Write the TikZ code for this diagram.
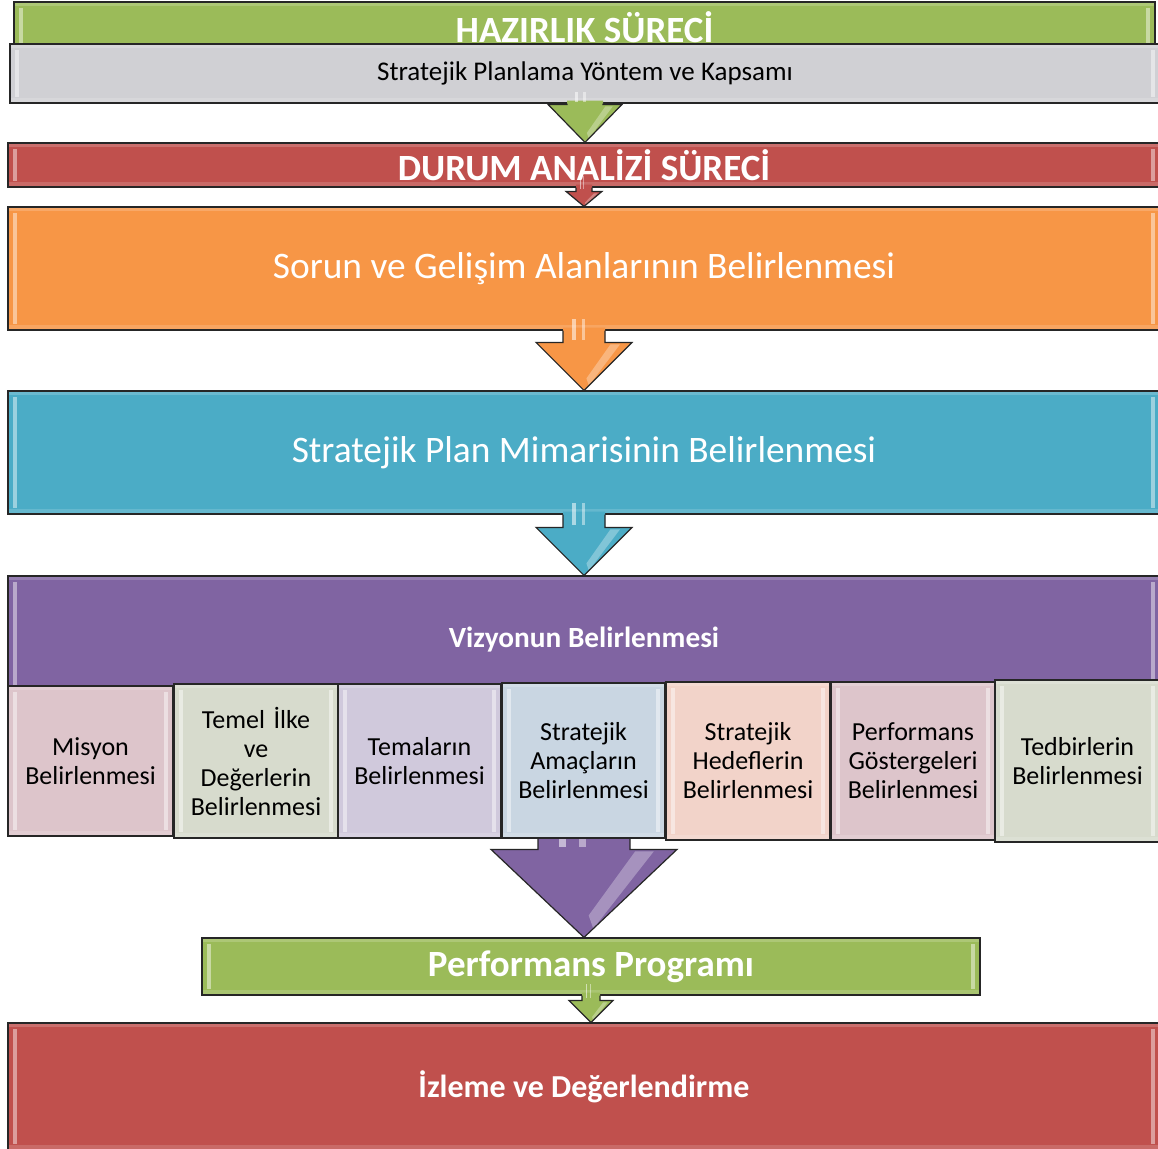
\documentclass[tikz,border=0pt]{standalone}
\usepackage{fontspec}
\setmainfont{Carlito}
\usetikzlibrary{calc}
\definecolor{cgreen}{HTML}{9BBB59}
\definecolor{cgray}{HTML}{D0D0D4}
\definecolor{cred}{HTML}{C0504D}
\definecolor{corange}{HTML}{F79646}
\definecolor{cblue}{HTML}{4BACC6}
\definecolor{cpurple}{HTML}{8064A2}
\definecolor{spink}{HTML}{DDC5CB}
\definecolor{sgreen}{HTML}{D7DBCD}
\definecolor{slav}{HTML}{D0C9DC}
\definecolor{sblue}{HTML}{C9D6E2}
\definecolor{speach}{HTML}{F2D3C9}
\tikzset{
  bevel/.style={path picture={
    \fill[white,opacity=.45] ([xshift=5pt,yshift=-6pt]path picture bounding box.north west) rectangle ([xshift=9pt,yshift=6pt]path picture bounding box.south west);
    \fill[white,opacity=.45] ([xshift=-9pt,yshift=-6pt]path picture bounding box.north east) rectangle ([xshift=-5pt,yshift=6pt]path picture bounding box.south east);
    \fill[white,opacity=.18] (path picture bounding box.north west) rectangle ([yshift=-4pt]path picture bounding box.north east);
    \fill[white,opacity=.15] (path picture bounding box.south west) rectangle ([yshift=5pt]path picture bounding box.south east);
  }},
  bar/.style={draw=black!85, line width=1.2pt, inner sep=0pt, bevel, text=white},
  small/.style={draw=black!85, line width=1.2pt, inner sep=0pt, bevel, text=black,
    text width=158pt, align=center, font=\fontsize{26}{29}\selectfont},
  bigfont/.style={font=\fontsize{37}{40}\selectfont\bfseries},
  regfont/.style={font=\fontsize{37.4}{42}\selectfont},
}
\newcommand\fatarrow[6]{%
  \fill[#6] let \p1=(#1.south), \p2=(#2.north) in
    (\x1-#3,\y1+3pt) -- (\x1-#3,\y2+#5) -- (\x1-#4,\y2+#5) -- (\x1,\y2) --
    (\x1+#4,\y2+#5) -- (\x1+#3,\y2+#5) -- (\x1+#3,\y1+3pt) -- cycle;
  \fill[white,opacity=.55] let \p1=(#1.south), \p2=(#2.north) in
    (\x1-0.55*#3,\y1+12pt) rectangle (\x1-0.4*#3,\y2+#5+2pt);
  \fill[white,opacity=.45] let \p1=(#1.south), \p2=(#2.north) in
    (\x1-0.1*#3,\y1+12pt) rectangle (\x1+0.05*#3,\y2+#5+2pt);
  \fill[white,opacity=.3] let \p1=(#1.south), \p2=(#2.north) in
    (\x1+0.55*#4,\y2+#5-2pt) -- (\x1+0.75*#4,\y2+#5-2pt) -- (\x1+0.1*#4,\y2+0.1*#5) -- (\x1+0.05*#4,\y2+0.25*#5) -- cycle;
  \draw[line width=1.2pt, black!85, line join=miter] let \p1=(#1.south), \p2=(#2.north) in
    (\x1-#3,\y1) -- (\x1-#3,\y2+#5) -- (\x1-#4,\y2+#5) -- (\x1,\y2) --
    (\x1+#4,\y2+#5) -- (\x1+#3,\y2+#5) -- (\x1+#3,\y1);
}
\begin{document}
\begin{tikzpicture}[x=1pt,y=-1pt]
\useasboundingbox (0,0) rectangle (1158,1148);
\fill[white] (0,0) rectangle (1158,1148);

% wide bars
\node[bar, fill=cgreen, minimum width=1141pt, minimum height=50pt, bigfont] (prep) at (584.5,27) {HAZIRLIK SÜRECİ};
\node[bar, fill=cgray, minimum width=1150pt, minimum height=59pt, text=black, font=\fontsize{27}{30}\selectfont] (method) at (585,73.5) {Stratejik Planlama Yöntem ve Kapsamı};
\node[bar, fill=cred, minimum width=1152pt, minimum height=44pt, bigfont] (durum) at (584,165) {DURUM ANALİZİ SÜRECİ};
\node[bar, fill=corange, minimum width=1152pt, minimum height=123pt, regfont] (sorun) at (584,268.5) {Sorun ve Gelişim Alanlarının Belirlenmesi};
\node[bar, fill=cblue, minimum width=1152pt, minimum height=123pt, regfont] (mimari) at (584,452.5) {Stratejik Plan Mimarisinin Belirlenmesi};
\node[bar, fill=cpurple, minimum width=1152pt, minimum height=128pt, font=\fontsize{29.3}{33}\selectfont\bfseries] (vizyon) at (584,640) {Vizyonun Belirlenmesi};
\node[bar, fill=cgreen, minimum width=778pt, minimum height=57pt, bigfont] (perf) at (591,966.5) {Performans Programı};
\node[bar, fill=cred, minimum width=1152pt, minimum height=127pt, font=\fontsize{32}{36}\selectfont\bfseries] (izleme) at (584,1086.5) {İzleme ve Değerlendirme};

% arrows
\fatarrow{method}{durum}{18pt}{37pt}{38pt}{cgreen}
\fatarrow{durum}{sorun}{8pt}{18pt}{15pt}{cred}
\fatarrow{sorun}{mimari}{21pt}{48pt}{48pt}{corange}
\fatarrow{mimari}{vizyon}{21pt}{48pt}{48pt}{cblue}
\fatarrow{vizyon}{perf}{46pt}{93pt}{88pt}{cpurple}
\fatarrow{perf}{izleme}{9pt}{22pt}{22pt}{cgreen}

% small boxes
\node[small, fill=spink, minimum width=165pt, minimum height=150pt] (misyon) at (90.5,761) {Misyon\\Belirlenmesi};
\node[small, fill=sgreen, minimum width=164pt, minimum height=154pt] (ilke) at (256,761) {Temel İlke\\ve\\Değerlerin\\Belirlenmesi};
\node[small, fill=slav, minimum width=163pt, minimum height=154pt] (tema) at (419.5,761) {Temaların\\Belirlenmesi};
\node[small, fill=sblue, minimum width=163pt, minimum height=155pt] (amac) at (583.5,760.5) {Stratejik\\Amaçların\\Belirlenmesi};
\node[small, fill=speach, minimum width=164pt, minimum height=158pt] (hedef) at (748,761) {Stratejik\\Hedeflerin\\Belirlenmesi};
\node[small, fill=spink, minimum width=164pt, minimum height=158pt] (gosterge) at (913,761) {Performans\\Göstergeleri\\Belirlenmesi};
\node[small, fill=sgreen, minimum width=165pt, minimum height=162pt] (tedbir) at (1077.5,761) {Tedbirlerin\\Belirlenmesi};
\end{tikzpicture}
\end{document}
